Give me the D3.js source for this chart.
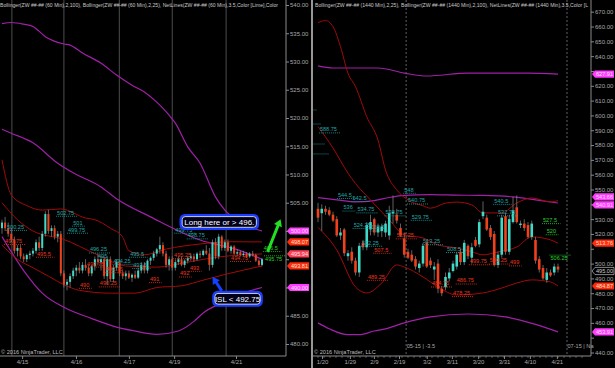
<!DOCTYPE html>
<html><head><meta charset="utf-8">
<script src="https://cdn.jsdelivr.net/npm/d3@7"></script>
<style>html,body{margin:0;padding:0;background:#000;}svg{display:block;}text{font-family:"Liberation Sans",Arial,sans-serif;}</style>
</head><body><svg id="c" width="615" height="368"></svg>
<script>
// ---------------- DATA ----------------
// Left panel: 60-minute bars [open, high, low, close]
const leftBars = [
[500.5,502,499.5,501.5],[501.5,502.5,500,500.5],[500.5,501.5,499,499.5],[499.5,500.5,498,498.5],[498.5,499,496,496.5],
[496.5,497.5,495.5,497],[497,497.5,495,495.5],[495.5,496,494.5,495],[495,496,494.5,495.75],[495.75,496.5,495,496],
[496,497,495.5,496.5],[496.5,498.5,496,498],[498,499,496.5,497],[497,500,496.5,499.5],[499.5,503.5,499,503],
[503,503.75,499.5,500],[500,501,499,500.5],[500.5,501,498.5,499],[499,500,498,499.5],[499.5,500,492,492.5],
[492.5,493,490,490.5],[490.5,491.5,489.5,491],[491,492.5,490,492],[492,493.5,491.5,493],[493,494,492,493.5],
[493.5,494.5,492.5,493],[493,494.5,492.5,494],[494,495,493,493.5],[493.5,494,492,492.5],[492.5,494,492,493.75],
[493.75,495.5,493,495],[495,496,494,494.5],[494.5,495.5,493,495],[495,495.5,491.5,492],[492,495.5,490.5,495],
[495,495.5,491,491.5],[491.5,494,491,493.5],[493.5,495,493,494.5],[494.5,495,492,492.5],[492.5,493,491.5,492],
[492,493,491.25,492.5],[492.5,493,491.5,491.75],[491.75,492.5,491,492.25],[492.25,493,491.5,491.75],[491.75,493.5,491.5,493],
[493,494.5,492.5,494],[494,494.5,492.5,493],[493,495,492.5,494.75],[494.75,495.5,494,495.25],[495.25,496.5,494.75,496],
[496,497,495.5,496.75],[496.75,499,496,497.5],[497.5,498,495.5,496],[496,496.5,493.5,494],[494,495.5,493,495],
[495,495.5,493,493.5],[493.5,495,493,494.5],[494.5,495.5,494,495],[495,495.5,493.75,494],[494,495,493.5,494.75],
[494.75,495.5,494.25,495.25],[495.25,496,494.75,495.5],[495.5,496,494.5,495],[495,496.25,494.75,496],[496,496.5,495.25,495.75],
[495.75,496.75,495.5,496.5],[496.5,497.5,495.75,496],[496,497,493,494],[494,498.5,493.5,498],[498,498.75,495,495.5],
[495.5,499.5,495,499],[499,499.25,496.5,497],[497,498.5,496.5,498],[498,498.5,496.25,496.5],[496.5,497.5,496,497.25],
[497.25,497.5,495.75,496],[496,496.75,495.5,496.25],[496.25,496.5,495.5,495.75],[495.75,496.5,495.5,496],[496,496.25,495.25,495.5],
[495.5,496.25,495.25,496],[496,496.5,495.5,495.75],[495.75,496,494.5,494.75],[494.75,495,493.75,494],[494,495.25,493.75,495]
];
// Left indicators [barIndex, price]
const leftBB100Upper = [[0,536.7],[3,536.9],[7,536.6],[10,536.2],[14,534.4],[20,533.1],[22,532.9],[26,531.5],[32,529.7],[37,527.6],[42,525.8],[46,524.6],[50,522.8],[54,520.5],[56,519.1],[60,514.9],[64,512.0],[69,506.0],[72,503.7],[77,501.6],[84,500.0]];
const leftBB100Mid = [[0,518],[3,517.3],[10,515.6],[18,512],[23,510.3],[32,507.8],[37,505.7],[48,502.5],[64,498.4],[76,496.7],[84,495.0]];
const leftBB100Lower = [[0,499],[7,493],[13,489],[20,486.5],[29,484.5],[37,483],[42,482.4],[50,481.7],[57,482.3],[62,484],[65,485.5],[72,487.5],[78,489],[84,490]];
const leftBB25Upper = [[0,512.6],[3,506.4],[8,504.5],[13,503.7],[19,503.9],[27,502.3],[30,502],[35,500.5],[39,498.9],[41,496.5],[46,495.8],[53,496.8],[64,497.7],[74,498.1],[84,498.07]];
const leftBB25Mid = [[0,505],[5,502],[10,500],[20,498.5],[30,496],[40,493.8],[50,493.6],[60,494.5],[70,495.4],[84,495.94]];
const leftBB25Lower = [[0,497.5],[5,495],[10,493.5],[15,492],[20,490.5],[25,489.5],[35,489],[43,489],[50,490],[58,490.3],[65,491.3],[72,492.3],[84,493.81]];
const leftAxisTicks = d3.range(480, 540.1, 5);
const leftSessionBreaks = [3.2, 20, 37.9, 55, 72.4];
const leftDateIdx = [6.5, 23.9, 41, 55.6, 75.6];
const leftDateLabels = ["4/15","4/16","4/17","4/19","4/21"];
// NetLines labels [barIndex, price, text, kind]
const leftNetLabels = [
[1.6,500.25,"500.25","res"],[17.8,502.75,"502.75","res"],[23,501,"501","res"],[21.3,499.75,"499.75","res"],
[28.4,496.25,"496.25","res"],[31,495,"495","res"],[36,494.25,"494.25","res"],[41.4,495.5,"495.5","res"],[42.4,493.5,"493.5","res"],
[56,499.75,"499.75","res"],[60,498.75,"498.75","res"],
[1,497.75,"497.75","sup"],[11.3,495.5,"495.5","sup"],[27.5,493.75,"493.75","sup"],[33.5,492.75,"492.75","sup"],[25.2,490,"490","sup"],
[31.6,490.25,"490.25","sup"],[47.8,491,"491","sup"],[55.6,495.25,"495.25","sup"],[60.7,493,"493","sup"],[57.5,492,"492","sup"],[74,494.75,"494.75","sup"],
[84.6,496.5,"496.5","new"],[85,495.75,"495.75","new"]
];
const leftTags = [[500,"500.00","mag"],[498.07,"498.07","red"],[495.94,"495.94","pink"],[493.81,"493.81","red"],[490,"490.00","mag"]];

// Right panel: daily bars [open, high, low, close]
const rightBars = [
[537,541,528,531],[534,540,522,537],[537,539,533,535],[536,538,532,533],[533,535,528,529],
[530,532,518,519],[519,524,516,521],[523,524,505,507],[505,509,502,507],[508,511,500,502],
[502,504,492,494],[494,514,491,512],[514,516,509,511],[511,528,509,526],[523,533,519,528],
[530,531,519,521],[521,527,518,525],[522,527,518,525],[521,529,518,527],[519,539,516,534],
[534,546,527,535],[533,537,527,529],[524,527,518,519],[517,521,504,506],[508,510,503,504],
[506,509,501,502],[503,505,496,498],[497,502,494,500],[500,514,498,512],[514,516,497,498],
[502,504,497,499],[496,501,489,498],[500,503,480,483],[483,485,478,480],[484,494,482,491],
[490,497,488,494],[495,502,494,500],[498,508,496,506],[508,510,499,501],[501,516,499,514],
[512,513,503,505],[504,514,500,511],[516,518,511,512],[513,530,511,528],[532,542,530,535],
[531,533,522,523],[524,526,516,518],[520,522,498,499],[499,508,497,506],[506,533,504,531],
[532,534,506,508],[508,533,506,530],[528,545,527,536],[538,546,527,528],[526,529,524,527],
[527,530,522,524],[526,528,517,518],[518,529,516,527],[516,518,500,502],[503,505,494,496],
[497,499,489,490],[489,497,487,494],[494,496,491,492],[494,500,492,498],[498,500,494,496]
];
const rightBB100Upper = [[0,633.4],[4,632],[16,632],[23,628.6],[29,626.6],[40,628.6],[56,628.6],[64,627.91]];
const rightBB100Mid = [[0,544.5],[5,543],[10,541.6],[15,542.5],[19,544.6],[23,546],[30,546.5],[37,546.2],[44,546],[52,545],[58,543],[64,540.91]];
const rightBB100Lower = [[0,460],[3,456],[8,452],[11,452],[15,454.5],[18,456],[23,460],[30,464],[40,466],[50,464],[58,459],[64,453.91]];
const rightBB25Upper = [[0,662.6],[2,664],[4,659.9],[6,646.4],[8,628.4],[10,619.4],[13,599.1],[16,583.4],[18,563.2],[21,549.7],[24,542.9],[28,539],[30,537.4],[34,540.8],[37,541.5],[41,539.6],[44,534.2],[49,534.2],[53,540.9],[57,544.3],[62,541.6],[64,542.5]];
const rightBB25Mid = [[0,592.5],[4,578],[8,561],[10,554],[14,543],[19,529.5],[23,519.3],[28,517.3],[32,512.6],[37,510.6],[41,508],[44,505.9],[48,507.9],[53,511.2],[57,518],[62,516],[64,513.76]];
const rightBB25Lower = [[0,524.5],[5,509.2],[10,484.2],[13,480.2],[17,486.9],[21,499.1],[23,497.7],[28,491],[32,484.2],[37,478.8],[44,480.2],[49,483.5],[53,486.9],[57,489],[62,487.6],[64,484.87]];
const rightAxisTicks = d3.range(440, 670.1, 10);
const rightRollovers = [23.5, 66.4];
const rightRolloverLabels = ["05-15 | -3.5", "07-15 | Na"];
const rightDateIdx = [1.07, 8.5, 14.9, 21.6, 29, 35.7, 42.7, 49.6, 56.5, 63.7];
const rightDateLabels = ["1/20","1/29","2/9","2/19","3/2","3/11","3/20","3/31","4/10","4/21"];
const rightNetLabels = [
[0.5,588.75,"588.75","res"],[5.3,544.5,"544.5","res"],[9.2,542.5,"542.5","res"],[6.8,536,"536","res"],[10.5,534.75,"534.75","res"],
[9.5,524.25,"524.25","res"],[14,522.5,"522.5","res"],[11.7,512.25,"512.25","res"],[18,532.75,"532.75","res"],[23,548,"548","res"],
[24,540.75,"540.75","res"],[25,529.75,"529.75","res"],[28,513.25,"513.25","res"],[34.4,508,"508.5","res"],[47,540.5,"540.5","res"],[48,532.75,"532.75","res"],
[15,507.5,"507.5","sup"],[21,517.25,"517.25","sup"],[13.3,489.25,"489.25","sup"],[30.4,484.75,"484.75","sup"],[45.8,500.25,"500.25","sup"],
[40.5,499.75,"499.75","sup"],[51.2,499,"499","sup"],[37,486.75,"486.75","sup"],[36,478.25,"478.25","sup"],
[60,527.5,"527.5","new"],[61,520,"520","new"],[62,506.25,"506.25","new"]
];
const rightTopLevels = [603.7, 594.2, 580.7, 574];
const rightTags = [[627.91,"627.91","mag"],[543.66,"543.66","mag"],[540.91,"540.91","mag"],[513.76,"513.76","red"],[495,"495.00","blk"],[484.87,"484.87","red"],[453.91,"453.91","mag"]];

// Annotations (data coordinates on left panel)
const longNote = {i: 70.2, price: 501.6, text: "Long here or > 496."};
const islNote = {i: 76.1, price: 488.0, text: "ISL < 492.75"};
const blueArrow = [[71, 489.4], [68, 491.9]];
const greenArrow = [[85.8, 496.3], [90, 502.1]];

// ---------------- DRAW ----------------
const svg = d3.select("#c");
svg.append("rect").attr("width",615).attr("height",368).attr("fill","#000");
const UP="#3fd9c8", DN="#f0401c", MAG="#a020a8", BBRED="#a30a0a";
const KIND={res:"#22a6a6",sup:"#e8361e",new:"#28d028"};
const TAGC={mag:["#ff3cff","#ffe0ff"],red:["#ff2a0a","#ffe0d0"],pink:["#ff3c58","#ffe0e0"],blk:["#000","#ccc"]};

const xL = d3.scaleLinear().domain([0,84]).range([2,262]);
const yL = d3.scaleLinear().domain([480,540]).range([344,5]);
const xR = d3.scaleLinear().domain([0,64]).range([318,558]);
const yR = d3.scaleLinear().domain([440,670]).range([352.5,11.7]);

const defs = svg.append("defs");
defs.append("clipPath").attr("id","clipL").append("rect").attr("x",0).attr("y",0).attr("width",286).attr("height",356);
defs.append("clipPath").attr("id","clipR").append("rect").attr("x",313).attr("y",0).attr("width",278).attr("height",356);

function panel(cfg){
  const {x,y,bars,clip,bodyW,lines,labels,tags,axisX,axisTicks,dateIdx,dateLabels,x0} = cfg;
  const g = svg.append("g");
  const pg = g.append("g").attr("clip-path",`url(#${clip})`);
  lines.forEach(([data,color,w])=>{
    pg.append("path").datum(data).attr("fill","none").attr("stroke",color).attr("stroke-width",w)
      .attr("d", d3.line().x(d=>x(d[0])).y(d=>y(d[1])).curve(d3.curveMonotoneX));
  });
  const cg = pg.append("g");
  cg.selectAll("line.w").data(bars).join("line").attr("class","w")
    .attr("x1",(d,i)=>x(i)).attr("x2",(d,i)=>x(i)).attr("y1",d=>y(d[1])).attr("y2",d=>y(d[2]))
    .attr("stroke","#8a8a8a").attr("stroke-width",0.7);
  cg.selectAll("rect").data(bars).join("rect")
    .attr("x",(d,i)=>x(i)-bodyW/2).attr("width",bodyW)
    .attr("y",d=>y(Math.max(d[0],d[3])))
    .attr("height",d=>Math.max(0.8,Math.abs(y(d[0])-y(d[3]))))
    .attr("fill",d=>d[3]>=d[0]?UP:DN);
  labels.forEach(([i,p,t,k],n)=>{
    const below = (k==="new" && n===labels.length-1);
    pg.append("text").attr("x",x(i)).attr("y",below?y(p)+5.6:y(p)-0.8).attr("font-size",5.6).attr("fill",KIND[k]).text(t);
    const w = t.length*2.9+4;
    pg.append("line").attr("x1",x(i)-1).attr("x2",x(i)-1+w).attr("y1",y(p)+0.8).attr("y2",y(p)+0.8)
      .attr("stroke",KIND[k]).attr("stroke-width",0.8).attr("stroke-dasharray","1,1");
  });
  const ax = g.append("g").attr("transform",`translate(${axisX},0)`)
    .call(d3.axisRight(y).tickValues(axisTicks).tickFormat(d3.format(".2f")).tickSize(3).tickPadding(1));
  ax.select(".domain").remove();
  ax.selectAll("line").attr("stroke","#888");
  ax.selectAll("text").attr("fill","#a8a8a8").attr("font-size",6).attr("font-family","Liberation Sans, Arial");
  ax.selectAll(".tick").filter(v=>tags.some(tg=>Math.abs(y(tg[0])-y(v))<6.6)).select("text").remove();
  g.append("line").attr("x1",axisX).attr("x2",axisX).attr("y1",0).attr("y2",356).attr("stroke","#8a8a8a");
  g.append("line").attr("x1",x0).attr("x2",axisX).attr("y1",356).attr("y2",356).attr("stroke","#8a8a8a");
  const bx = g.append("g").attr("transform","translate(0,356)")
    .call(d3.axisBottom(x).tickValues(dateIdx).tickFormat((d,k)=>dateLabels[k]).tickSize(3).tickPadding(1));
  bx.select(".domain").remove();
  bx.selectAll("line").attr("stroke","#888");
  bx.selectAll("text").attr("fill","#a8a8a8").attr("font-size",6).attr("font-family","Liberation Sans, Arial");
  const ys = tags.map(t=>y(t[0]));
  for(let k=1;k<ys.length;k++){ if(ys[k]-ys[k-1]<8){ const m=(ys[k]+ys[k-1])/2; ys[k-1]=m-4; ys[k]=m+4; } }
  tags.forEach(([p,t,c],k)=>{
    const yy=ys[k], xa=axisX+1;
    g.append("path").attr("d",`M${xa},${yy}L${xa+3},${yy-3.6}H${xa+22}V${yy+3.6}H${xa+3}Z`)
      .attr("fill",TAGC[c][0]).attr("stroke",c==="blk"?"#ddd":"none").attr("stroke-width",0.6);
    g.append("text").attr("x",xa+12.5).attr("y",yy+2.1).attr("text-anchor","middle").attr("font-size",5.6)
      .attr("fill",TAGC[c][1]).text(t);
  });
  return {g,pg};
}

const gridL = svg.append("g");
gridL.selectAll("line").data(leftSessionBreaks).join("line")
  .attr("x1",d=>xL(d)).attr("x2",d=>xL(d)).attr("y1",0).attr("y2",356).attr("stroke","#4e4e4e").attr("stroke-width",1);
const gridR = svg.append("g");
gridR.selectAll("line").data(rightRollovers).join("line")
  .attr("x1",d=>xR(d)).attr("x2",d=>xR(d)).attr("y1",0).attr("y2",356)
  .attr("stroke","#8a8a8a").attr("stroke-width",0.7).attr("stroke-dasharray","2,2");
gridR.selectAll("text").data(rightRollovers).join("text")
  .attr("x",d=>xR(d)+0.5).attr("y",348).attr("font-size",5.6).attr("fill","#a8a8a8").text((d,k)=>rightRolloverLabels[k]);

const L = panel({x:xL,y:yL,bars:leftBars,clip:"clipL",bodyW:2,
  lines:[[leftBB100Upper,MAG,1.2],[leftBB100Mid,MAG,1.2],[leftBB100Lower,MAG,1.2],[leftBB25Upper,BBRED,1],[leftBB25Mid,BBRED,1],[leftBB25Lower,BBRED,1]],
  labels:leftNetLabels,tags:leftTags,axisX:286,axisTicks:leftAxisTicks,dateIdx:leftDateIdx,dateLabels:leftDateLabels,x0:0});

const R = panel({x:xR,y:yR,bars:rightBars,clip:"clipR",bodyW:2.6,
  lines:[[rightBB100Upper,MAG,1.2],[rightBB100Mid,MAG,1.2],[rightBB100Lower,MAG,1.2],[rightBB25Upper,BBRED,1],[rightBB25Mid,BBRED,1],[rightBB25Lower,BBRED,1]],
  labels:rightNetLabels,tags:rightTags,axisX:591,axisTicks:rightAxisTicks,dateIdx:rightDateIdx,dateLabels:rightDateLabels,x0:313});
R.pg.selectAll("line.top").data(rightTopLevels).join("line").attr("class","top")
  .attr("x1",xR(-1.2)).attr("x2",(d,k)=>xR(-1.2)+[4,8,12,15][k]).attr("y1",d=>yR(d)).attr("y2",d=>yR(d))
  .attr("stroke",KIND.res).attr("stroke-width",0.8).attr("stroke-dasharray","1,1");
svg.append("g").selectAll("line").data(d3.range(0,72,1.6)).join("line")
  .attr("x1",d=>xR(d)).attr("x2",d=>xR(d)).attr("y1",356).attr("y2",358).attr("stroke","#888").attr("stroke-width",0.6);

svg.append("line").attr("x1",312).attr("x2",312).attr("y1",0).attr("y2",368).attr("stroke","#c8c8c8").attr("stroke-width",1.5);

const TITLEFONT = '"Liberation Sans Narrow","Arial Narrow","Liberation Sans",sans-serif';
svg.append("text").attr("x",0).attr("y",6.5).attr("font-size",5.3).attr("fill","#c8c8c8")
  .style("font-family",TITLEFONT).attr("textLength",278).attr("lengthAdjust","spacingAndGlyphs")
  .text("Bollinger(ZW ##-## (60 Min),2,100), Bollinger(ZW ##-## (60 Min),2,25), NetLines(ZW ##-## (60 Min),3.5,Color [Lime],Color");
svg.append("text").attr("x",315).attr("y",6.5).attr("font-size",5.3).attr("fill","#c8c8c8")
  .style("font-family",TITLEFONT).attr("textLength",273).attr("lengthAdjust","spacingAndGlyphs")
  .text("Bollinger(ZW ##-## (1440 Min),2,25), Bollinger(ZW ##-## (1440 Min),2,100), NetLines(ZW ##-## (1440 Min),3.5,Color [L");
[1,314].forEach(xx=>{
  svg.append("text").attr("x",xx).attr("y",354).attr("font-size",5.6).attr("fill","#bdbdbd").text("© 2016 NinjaTrader, LLC");
});

function arrow(pts,color){
  const [a,b]=pts; const x1=xL(a[0]),y1=yL(a[1]),x2=xL(b[0]),y2=yL(b[1]);
  const dx=x2-x1,dy=y2-y1,len=Math.hypot(dx,dy),ux=dx/len,uy=dy/len,nx=-uy,ny=ux;
  const hl=7,hw=4.2;
  const bxp=x2-ux*hl, byp=y2-uy*hl;
  svg.append("line").attr("x1",x1).attr("y1",y1).attr("x2",bxp+ux*1).attr("y2",byp+uy*1).attr("stroke",color).attr("stroke-width",3);
  svg.append("path").attr("d",`M${x2},${y2}L${bxp+nx*hw},${byp+ny*hw}L${bxp-nx*hw},${byp-ny*hw}Z`).attr("fill",color);
}
arrow(blueArrow,"#1440ff");
arrow(greenArrow,"#22e022");
function note(n,w){
  const cx=xL(n.i), cy=yL(n.price), h=13.5;
  svg.append("rect").attr("x",cx-w/2).attr("y",cy-h/2).attr("width",w).attr("height",h).attr("rx",4)
    .attr("fill","#00001a").attr("stroke","#1a3cff").attr("stroke-width",2.6);
  svg.append("rect").attr("x",cx-w/2+1.4).attr("y",cy-h/2+1.4).attr("width",w-2.8).attr("height",h-2.8).attr("rx",3)
    .attr("fill","none").attr("stroke","#ffffff").attr("stroke-width",0.8);
  svg.append("text").attr("x",cx).attr("y",cy+2.9).attr("text-anchor","middle").attr("font-size",8).attr("fill","#fff").text(n.text);
}
note(longNote,77);
note(islNote,48);
</script></body></html>
